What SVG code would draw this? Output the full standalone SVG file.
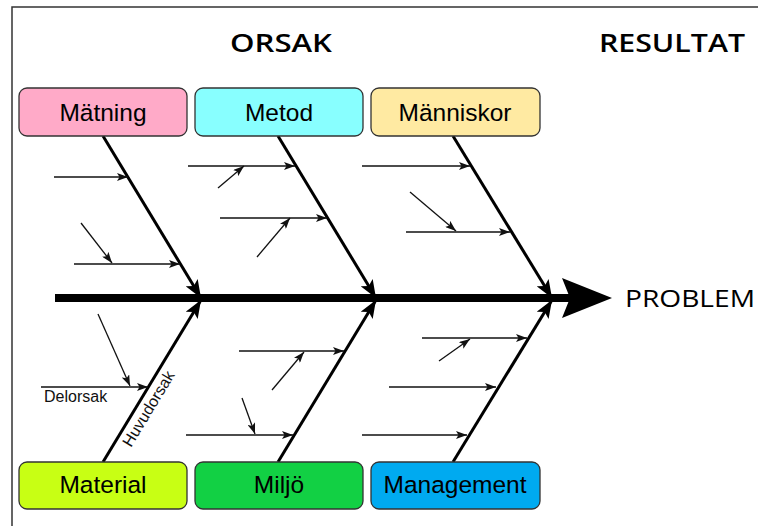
<svg xmlns="http://www.w3.org/2000/svg" width="758" height="526" viewBox="0 0 758 526">
<defs>
<style>
.box{stroke:#333;stroke-width:1.3}
.lbl{font-family:"Liberation Sans",Arial,sans-serif;font-size:24.5px;fill:#000;text-anchor:middle}
.hdr{font-family:"Open Sans","DejaVu Sans",sans-serif;font-weight:600;font-size:26px;fill:#000}
.bone{stroke:#000;stroke-width:3;fill:none;marker-end:url(#big)}
.sub{stroke:#111;stroke-width:1.3;fill:none;marker-end:url(#small)}
.small{font-family:"Liberation Sans",Arial,sans-serif;font-size:16px;fill:#111}
</style>
<marker id="big" markerUnits="userSpaceOnUse" viewBox="0 0 20 14" refX="18" refY="7" markerWidth="20" markerHeight="14" orient="auto">
<path d="M0,0 L18,7 L0,14 L4,7 Z" fill="#000"/>
</marker>
<marker id="small" markerUnits="userSpaceOnUse" viewBox="0 0 12 8" refX="11" refY="4" markerWidth="12" markerHeight="8" orient="auto">
<path d="M0,0 L11,4 L0,8 L2.5,4 Z" fill="#111"/>
</marker>
</defs>
<rect width="758" height="526" fill="#fff"/>
<path d="M12,526 L12,7 L758,7" fill="none" stroke="#333" stroke-width="1.5"/>
<text class="hdr" x="230" y="52" textLength="102" lengthAdjust="spacingAndGlyphs">ORSAK</text>
<text class="hdr" x="599" y="52" textLength="146" lengthAdjust="spacingAndGlyphs">RESULTAT</text>
<text class="hdr" x="625" y="307" style="font-size:24px;font-weight:500" textLength="130" lengthAdjust="spacingAndGlyphs">PROBLEM</text>

<g id="connectors">
<line x1="55" y1="298" x2="570" y2="298" stroke="#000" stroke-width="8"/>
<path d="M562,278 L612,298 L562,318 L570,298 Z" fill="#000"/>
<line class="bone" x1="103" y1="136" x2="201" y2="298"/>
<line class="bone" x1="278" y1="136" x2="376" y2="298"/>
<line class="bone" x1="453" y1="136" x2="552" y2="298"/>
<line class="bone" x1="103" y1="462" x2="201" y2="300"/>
<line class="bone" x1="278" y1="462" x2="376" y2="300"/>
<line class="bone" x1="453" y1="462" x2="552" y2="300"/>
<line class="sub" x1="54" y1="177" x2="128" y2="177"/>
<line class="sub" x1="74" y1="264" x2="180" y2="264"/>
<line class="sub" x1="81" y1="223" x2="112" y2="263"/>
<line class="sub" x1="188" y1="166" x2="295" y2="166"/>
<line class="sub" x1="218" y1="188" x2="244" y2="166"/>
<line class="sub" x1="220" y1="218" x2="327" y2="218"/>
<line class="sub" x1="257" y1="257" x2="290" y2="218"/>
<line class="sub" x1="362" y1="166" x2="470" y2="166"/>
<line class="sub" x1="410" y1="192" x2="456" y2="231"/>
<line class="sub" x1="406" y1="232" x2="510" y2="232"/>
<line class="sub" x1="41" y1="387" x2="148" y2="387"/>
<line class="sub" x1="98" y1="314" x2="130" y2="386"/>
<line class="sub" x1="239" y1="351" x2="344" y2="351"/>
<line class="sub" x1="272" y1="390" x2="304" y2="352"/>
<line class="sub" x1="186" y1="435" x2="293" y2="435"/>
<line class="sub" x1="242" y1="398" x2="255" y2="434"/>
<line class="sub" x1="422" y1="338" x2="527" y2="338"/>
<line class="sub" x1="439" y1="361" x2="470" y2="339"/>
<line class="sub" x1="389" y1="387" x2="496" y2="387"/>
<line class="sub" x1="362" y1="435" x2="467" y2="435"/>
</g>
<text class="small" x="44" y="402">Delorsak</text>
<text class="small" transform="translate(131,448) rotate(-58.8)">Huvudorsak</text>

<g id="matning"><rect class="box" x="19" y="88" width="168" height="48" rx="8" fill="#FFAAC8"/><text class="lbl" x="103" y="121">Mätning</text></g>
<g id="metod"><rect class="box" x="195" y="88" width="168" height="48" rx="8" fill="#88FFFF"/><text class="lbl" x="279" y="121">Metod</text></g>
<g id="manniskor"><rect class="box" x="371" y="88" width="169" height="48" rx="8" fill="#FFEAA2"/><text class="lbl" x="455" y="121">Människor</text></g>
<g id="material"><rect class="box" x="19" y="462" width="168" height="47" rx="8" fill="#C8FF14"/><text class="lbl" x="103" y="493">Material</text></g>
<g id="miljo"><rect class="box" x="195" y="462" width="168" height="47" rx="8" fill="#12D044"/><text class="lbl" x="279" y="493">Miljö</text></g>
<g id="management"><rect class="box" x="371" y="462" width="169" height="47" rx="8" fill="#00AAF0"/><text class="lbl" x="455" y="493">Management</text></g>
</svg>
